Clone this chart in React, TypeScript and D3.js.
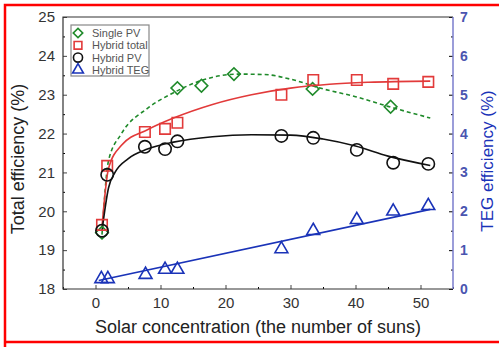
import React, { useEffect, useRef } from "react";
import * as d3 from "d3";

// measured points
const pvX = [1, 12.6, 16.3, 21.3, 33.4, 45.4];
const pvY = [19.45, 23.17, 23.23, 23.53, 23.15, 22.69];

const hx = [1, 1.8, 7.6, 10.7, 12.6, 28.6, 33.5, 40.2, 45.8, 51.2];
const totalY = [19.65, 21.17, 22.04, 22.12, 22.28, 23.0, 23.38, 23.38, 23.28, 23.33];
const hybridPvY = [19.5, 20.94, 21.66, 21.6, 21.8, 21.94, 21.89, 21.58, 21.25, 21.22];
const tegX = [0.9, 1.9, 7.7, 10.7, 12.6, 28.6, 33.5, 40.2, 45.8, 51.2];
const tegY = [0.26, 0.26, 0.37, 0.5, 0.5, 1.03, 1.5, 1.78, 2.0, 2.14];

// fitted curves
const pvFitX = [1, 2, 4, 8, 12, 16, 22, 26, 30, 35, 40, 45, 51.5];
const pvFitY = [19.4, 21.3, 22.0, 22.65, 23.05, 23.35, 23.53, 23.52, 23.4, 23.15, 22.95, 22.7, 22.4];
const totFitX = [1, 2, 4, 8, 12, 18, 24, 30, 36, 42, 51.5];
const totFitY = [19.6, 21.1, 21.7, 22.1, 22.4, 22.75, 23.0, 23.17, 23.27, 23.32, 23.35];
const hpvFitX = [1, 2, 3, 5, 8, 12, 18, 24, 30, 35, 40, 45, 51.5];
const hpvFitY = [19.5, 20.6, 21.0, 21.35, 21.6, 21.78, 21.92, 21.97, 21.96, 21.86, 21.68, 21.42, 21.18];
const tegFitX = [0.5, 51.5];
const tegFitY = [0.22, 2.05];

const xTicks = [0, 10, 20, 30, 40, 50];
const yTicks = [18, 19, 20, 21, 22, 23, 24, 25];
const yRTicks = [0, 1, 2, 3, 4, 5, 6, 7];
const legendLabels = ["Single PV", "Hybrid total", "Hybrid PV", "Hybrid TEG"];

const W = 499;
const H = 347;
const L = 63, T = 17, R = 453, B = 289;

const RED = "#e23a3a";
const GREEN = "#1f8a2a";
const BLACK = "#111";
const BLUE = "#1a33b8";
const FONT = "Liberation Sans, Arial, sans-serif";

const App = () => {
  const ref = useRef<SVGSVGElement>(null);

  useEffect(() => {
    const svg = d3.select(ref.current);
    svg.selectAll("*").remove();

    const x = d3.scaleLinear().domain([-5, 55]).range([L, R]);
    const y = d3.scaleLinear().domain([18, 25]).range([B, T]);
    const yR = d3.scaleLinear().domain([0, 7]).range([B, T]);
    const fmt = d3.format("d");

    // red outer frame
    svg.append("path")
      .attr("d", `M5,${H} V5 H${W}`)
      .attr("fill", "none").attr("stroke", "#f00").attr("stroke-width", 2.5);
    svg.append("line")
      .attr("x1", 5).attr("x2", W).attr("y1", 342).attr("y2", 342)
      .attr("stroke", "#f00").attr("stroke-width", 2.5);

    // axes
    const bottom = svg.append("g").attr("transform", `translate(0,${B})`)
      .call(d3.axisBottom(x).tickValues(xTicks).tickFormat(fmt).tickSize(-4).tickPadding(8));
    svg.append("g").attr("transform", `translate(0,${B})`)
      .call(d3.axisBottom(x).tickValues(d3.range(-5, 56, 10)).tickSize(-2).tickFormat(() => ""));
    const left = svg.append("g").attr("transform", `translate(${L},0)`)
      .call(d3.axisLeft(y).tickValues(yTicks).tickFormat(fmt).tickSize(-4).tickPadding(8));
    svg.append("g").attr("transform", `translate(${L},0)`)
      .call(d3.axisLeft(y).tickValues(d3.range(18.5, 25, 1)).tickSize(-2).tickFormat(() => ""));
    const right = svg.append("g").attr("transform", `translate(${R},0)`)
      .call(d3.axisRight(yR).tickValues(yRTicks).tickFormat(fmt).tickSize(-4).tickPadding(7));
    svg.append("g").attr("transform", `translate(${R},0)`)
      .call(d3.axisRight(yR).tickValues(d3.range(0.5, 7, 1)).tickSize(-2).tickFormat(() => ""));

    svg.selectAll(".domain").remove();
    [bottom, left].forEach(g => {
      g.selectAll("text").attr("font-family", FONT).attr("font-size", 15).attr("fill", "#333");
      g.selectAll("line").attr("stroke", "#444");
    });
    right.selectAll("text").attr("font-family", FONT).attr("font-size", 14)
      .attr("font-weight", "bold").attr("fill", "#4a55b0");
    svg.selectAll("g line").attr("stroke-width", 1);

    // frame
    svg.append("path").attr("d", `M${R},${T} H${L} V${B} H${R}`)
      .attr("fill", "none").attr("stroke", "#333").attr("stroke-width", 1.2);
    svg.append("line").attr("x1", R).attr("x2", R).attr("y1", T).attr("y2", B)
      .attr("stroke", "#7a7ccc").attr("stroke-width", 1.5);

    // fit curves
    const line = (xs: number[], ys: number[], ys2: (v: number) => number) =>
      d3.line<number>().x((_, i) => x(xs[i])).y(d => ys2(d)).curve(d3.curveMonotoneX)(ys);

    svg.append("path").attr("d", line(pvFitX, pvFitY, y))
      .attr("fill", "none").attr("stroke", GREEN).attr("stroke-width", 1.6).attr("stroke-dasharray", "4,3");
    svg.append("path").attr("d", line(totFitX, totFitY, y))
      .attr("fill", "none").attr("stroke", RED).attr("stroke-width", 1.6);
    svg.append("path").attr("d", line(hpvFitX, hpvFitY, y))
      .attr("fill", "none").attr("stroke", BLACK).attr("stroke-width", 1.6);
    svg.append("path").attr("d", line(tegFitX, tegFitY, yR))
      .attr("fill", "none").attr("stroke", BLUE).attr("stroke-width", 1.6);

    // markers
    const sym = (type: d3.SymbolType, size: number) => d3.symbol().type(type).size(size)();
    const plot = (xs: number[], ys: number[], sc: (v: number) => number, d: string | null, color: string, rot = 0) => {
      svg.append("g").selectAll("path").data(ys).enter().append("path")
        .attr("d", d)
        .attr("transform", (v, i) => `translate(${x(xs[i])},${sc(v)}) rotate(${rot})`)
        .attr("fill", "none").attr("stroke", color).attr("stroke-width", 1.6);
    };
    plot(pvX, pvY, y, sym(d3.symbolSquare, 80), GREEN, 45);
    plot(hx, totalY, y, sym(d3.symbolSquare, 110), RED);
    plot(hx, hybridPvY, y, sym(d3.symbolCircle, 120), BLACK);
    plot(tegX, tegY, yR, sym(d3.symbolTriangle, 72), BLUE);

    // legend
    const lg = svg.append("g").attr("transform", "translate(71,25)");
    lg.append("rect").attr("width", 78).attr("height", 51)
      .attr("fill", "white").attr("stroke", "#888").attr("stroke-width", 1.2);
    const lsym = [
      { d: sym(d3.symbolSquare, 45), c: GREEN, r: 45 },
      { d: sym(d3.symbolSquare, 60), c: RED, r: 0 },
      { d: sym(d3.symbolCircle, 65), c: BLACK, r: 0 },
      { d: sym(d3.symbolTriangle, 50), c: BLUE, r: 0 },
    ];
    legendLabels.forEach((lab, i) => {
      const cy = 8 + i * 12.3;
      lg.append("path").attr("d", lsym[i].d)
        .attr("transform", `translate(7,${cy}) rotate(${lsym[i].r})`)
        .attr("fill", "none").attr("stroke", lsym[i].c).attr("stroke-width", 1.6);
      lg.append("text").attr("x", 21).attr("y", cy + 4).text(lab)
        .attr("font-family", FONT).attr("font-size", 11).attr("fill", "#555");
    });

    // titles
    svg.append("text").attr("transform", `translate(24,159) rotate(-90)`)
      .attr("text-anchor", "middle").attr("font-family", FONT).attr("font-size", 18)
      .attr("fill", "#222").text("Total efficiency (%)");
    svg.append("text").attr("transform", `translate(493,161) rotate(-90)`)
      .attr("text-anchor", "middle").attr("font-family", FONT).attr("font-size", 17)
      .attr("fill", BLUE).text("TEG efficiency (%)");
    svg.append("text").attr("x", 258).attr("y", 333)
      .attr("text-anchor", "middle").attr("font-family", FONT).attr("font-size", 18)
      .attr("fill", "#222").text("Solar concentration (the number of suns)");
  }, []);

  return (
    <svg ref={ref} width={W} height={H}
      style={{ position: "absolute", left: 0, top: 0, background: "white" }} />
  );
};

export default App;
